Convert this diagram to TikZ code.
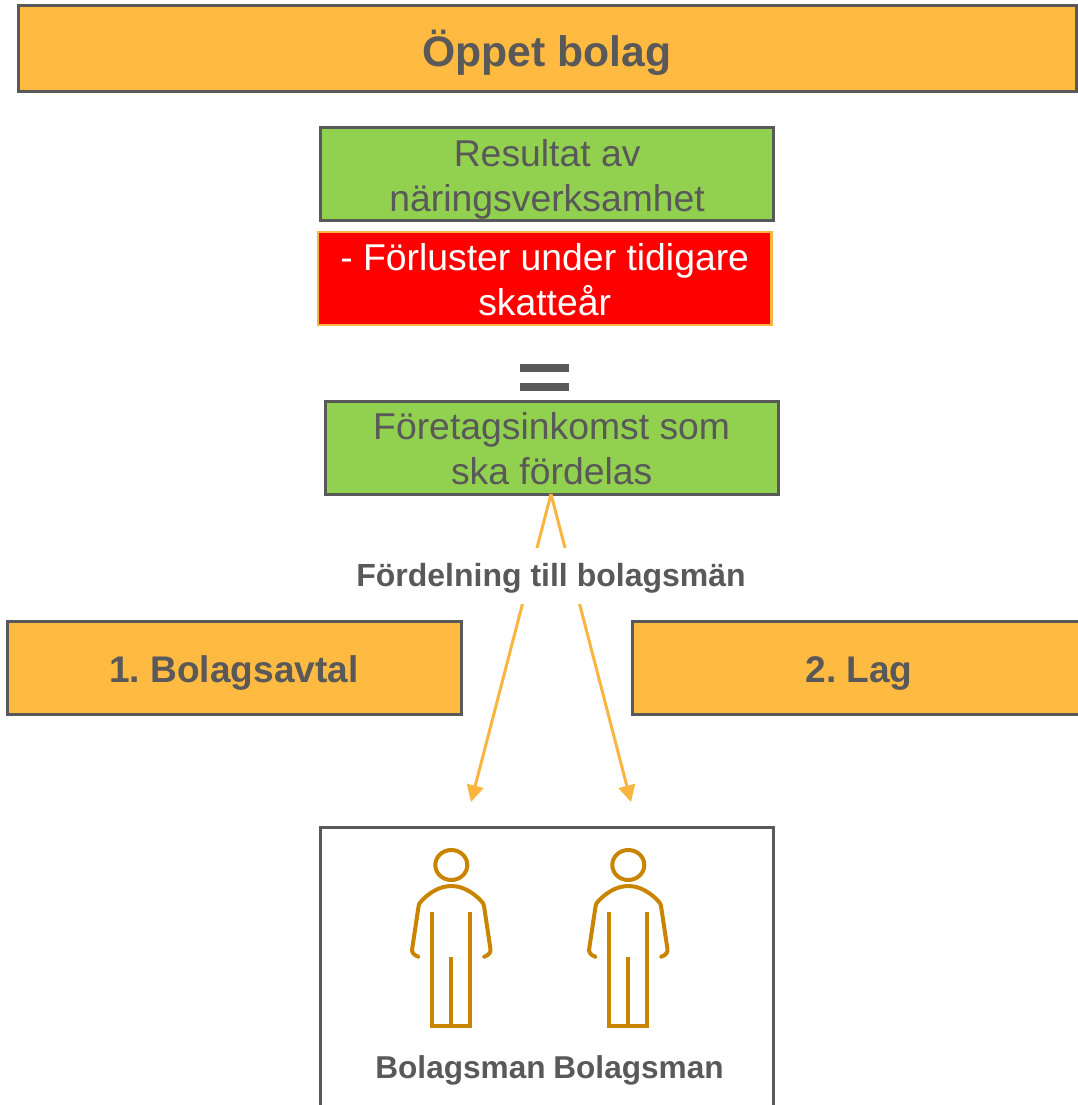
\documentclass[tikz,border=0pt]{standalone}
\usepackage{fontspec}
\setmainfont{Liberation Sans}
\usetikzlibrary{arrows.meta}
\definecolor{txt}{HTML}{595959}
\definecolor{orangefill}{HTML}{FFBA42}
\definecolor{orangeline}{HTML}{F9B53F}
\definecolor{greenfill}{HTML}{92D050}
\definecolor{personcol}{HTML}{C98400}
\newcommand{\pushtext}[1]{\rule{0pt}{#1}}
\tikzset{
  x=0.75pt,y=-0.75pt,
  boxbase/.style={draw=txt,line width=2.25pt,outer sep=0pt,inner sep=0pt,align=center,text=txt,anchor=north west},
  head/.style={boxbase,fill=orangefill,minimum height=64.5pt,font=\fontsize{28}{33.75}\selectfont\bfseries},
  greenbox/.style={boxbase,fill=greenfill,minimum width=340pt,minimum height=69.75pt,font=\fontsize{28}{33.75}\selectfont},
  redbox/.style={greenbox,fill=red,draw=orangeline,line width=1.75pt,text=white},
  conn/.style={draw=orangeline,line width=2.25pt,-{Triangle[length=12.5pt,width=12.5pt]}},
  boldlabel/.style={text=txt,inner sep=0pt,font=\fontsize{23.7}{28}\selectfont\bfseries},
  figure/.style={draw=personcol,line width=3pt,line cap=round,line join=round},
  equalbar/.style={fill=txt,draw=none},
  person/.pic={
    \draw[figure] (0,0) ellipse [x radius=16,y radius=15];
    \draw[figure] (-33,91.7) .. controls (-38,90) and (-40,87) .. (-39,83)
      -- (-33,43) .. controls (-32.5,39) and (-31.5,37) .. (-29,35)
      .. controls (-22,28) and (-12,21) .. (0,21)
      .. controls (12,21) and (22,28) .. (29,35)
      .. controls (31.5,37) and (32.5,39) .. (33,43)
      -- (39,83) .. controls (40,87) and (38,90) .. (33,91.7);
    \draw[figure,line join=miter,line cap=butt] (-19,46.7) -- (-19,161) -- (19,161) -- (19,46.7);
    \draw[figure,line cap=butt] (0,91.7) -- (0,161);
  }
}
\begin{document}
\begin{tikzpicture}
\frenchspacing
\useasboundingbox (0,0) rectangle (1077,1105);
\node[head,minimum width=793.5pt] (title) at (18,6) {\fontsize{32}{38}\selectfont\pushtext{33pt}Öppet bolag};
\node[greenbox] (result) at (320.5,128) {\pushtext{28.2pt}Resultat av\\näringsverksamhet};
\node[redbox] (loss) at (318,232) {\pushtext{22.6pt}- Förluster under tidigare\\skatteår};
\fill[equalbar] (520,364) rectangle (569,371.5);
\fill[equalbar] (520,383) rectangle (569,390.5);
\node[greenbox] (income) at (325,401) {\pushtext{22.6pt}Företagsinkomst som\\ska fördelas};
\node[head,minimum width=340.5pt,minimum height=69.75pt,font=\fontsize{27.8}{33}\selectfont\bfseries] (avtal) at (7,621) {\pushtext{28.6pt}1. Bolagsavtal};
\node[head,minimum width=340.5pt,minimum height=69.75pt,font=\fontsize{27.8}{33}\selectfont\bfseries] (lag) at (632,621) {\pushtext{28.6pt}2. Lag};
\coordinate (tipL) at (471,802);
\coordinate (tipR) at (631,802);
\coordinate (apex) at (551,494);
\draw[conn] (apex) -- (tipL);
\draw[conn] (apex) -- (tipR);
\node[boldlabel,fill=white,minimum width=300pt,minimum height=42pt] (dist) at (551,576) {};
\node[boldlabel] (distlabel) at (551,578) {\fontsize{24}{28}\selectfont Fördelning till bolagsmän};
\node[boxbase,minimum width=340pt,minimum height=240pt] (group) at (320,827) {};
\pic at (451.3,865) {person};
\pic at (628.3,865) {person};
\node[boldlabel] (man1) at (460.5,1070.5) {Bolagsman};
\node[boldlabel] (man2) at (638.5,1070.5) {Bolagsman};
\end{tikzpicture}
\end{document}
